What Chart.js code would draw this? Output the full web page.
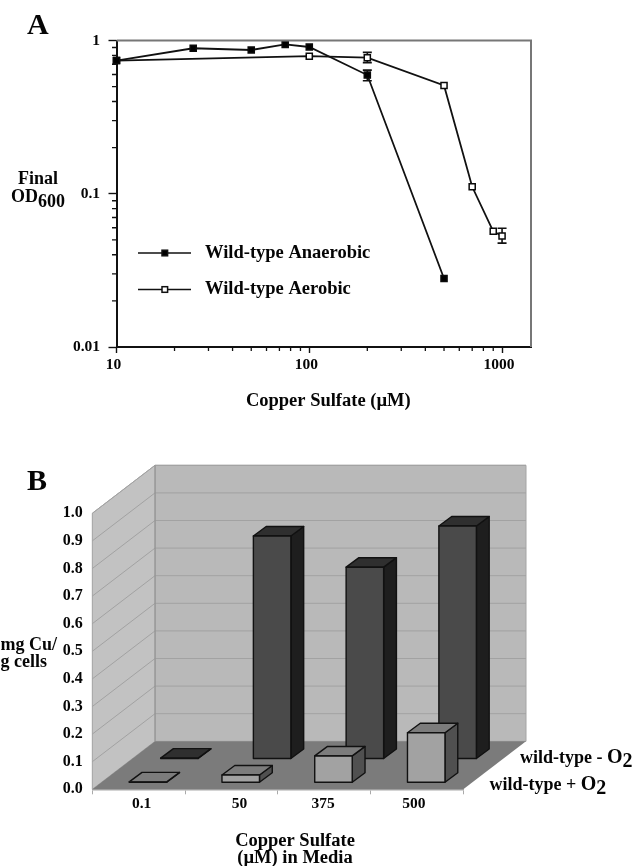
<!DOCTYPE html>
<html><head><meta charset="utf-8">
<script src="https://cdn.jsdelivr.net/npm/chart.js@4/dist/chart.umd.js"></script>
<style>
html,body{margin:0;padding:0;background:#fff;overflow:hidden}
body{width:633px;height:866px;position:relative;filter:blur(0.55px)}
canvas{position:absolute;left:0;display:block}
</style></head><body>
<canvas id="a" width="633" height="420" style="top:0"></canvas>
<canvas id="b" width="633" height="446" style="top:420px"></canvas>
<script>
// Panel A data
const anaerobicX=[10,25,50,75,100,200,500];
const anaerobicY=[0.74,0.89,0.867,0.944,0.907,0.595,0.028];
const anaerobicLow=[null,null,null,null,null,0.546,null];
const anaerobicHigh=[null,null,null,null,null,0.641,null];
const aerobicX=[10,100,200,500,700,900,1000];
const aerobicY=[0.74,0.79,0.772,0.509,0.111,0.0569,0.053];
const aerobicLow=[null,null,0.717,null,null,null,0.0476];
const aerobicHigh=[null,null,0.837,null,null,null,0.0596];
const xMajorTicks=[10,100,1000];
const xMinorTicks=[20,30,40,50,60,70,80,90,200,300,400,500,600,700,800,900];
const yMajorTicks=[0.01,0.1,1];
const yMinorTicks=[0.02,0.03,0.04,0.05,0.06,0.07,0.08,0.09,0.2,0.3,0.4,0.5,0.6,0.7,0.8,0.9];
// Panel B data
const copperLevels=['0.1','50','375','500'];
const plusO2=[0.003,0.028,0.097,0.181];
const minusO2=[0.003,0.808,0.695,0.844];

const SERIF='"Liberation Serif","Times New Roman",serif';
const INK='#050505';
function txt(ctx,segs,x,y,align){
  ctx.save();ctx.textBaseline='alphabetic';ctx.textAlign='left';ctx.fillStyle=INK;
  let w=0;
  segs.forEach(s=>{ctx.font='bold '+s[1]+'px '+SERIF;w+=ctx.measureText(s[0]).width;});
  let cx=align==='right'?x-w:align==='center'?x-w/2:x;
  segs.forEach(s=>{ctx.font='bold '+s[1]+'px '+SERIF;ctx.fillText(s[0],cx,y+(s[2]||0));cx+=ctx.measureText(s[0]).width;});
  ctx.restore();
}
const errorBars=[{low:anaerobicLow,high:anaerobicHigh},{low:aerobicLow,high:aerobicHigh}];
const panelA={id:'panelA',
  beforeDatasetDraw(chart,args){
    const {ctx,scales:{x,y}}=chart;const e=errorBars[args.index];
    const xs=chart.data.datasets[args.index].data;
    ctx.save();ctx.strokeStyle='#111';ctx.lineWidth=1.6;
    e.low.forEach((lo,i)=>{ if(lo===null)return;
      const px=x.getPixelForValue(xs[i].x),a=y.getPixelForValue(lo),b=y.getPixelForValue(e.high[i]);
      ctx.beginPath();ctx.moveTo(px,a);ctx.lineTo(px,b);
      ctx.moveTo(px-4.5,a);ctx.lineTo(px+4.5,a);ctx.moveTo(px-4.5,b);ctx.lineTo(px+4.5,b);ctx.stroke();
    });ctx.restore();
  },
  afterDraw(chart){
    const {ctx,chartArea:c,scales:{x,y}}=chart;
    ctx.save();
    ctx.strokeStyle='#777';ctx.lineWidth=2;ctx.beginPath();
    ctx.moveTo(c.left,c.top);ctx.lineTo(c.right,c.top);ctx.lineTo(c.right,c.bottom);ctx.stroke();
    ctx.strokeStyle='#111';ctx.lineWidth=1.3;ctx.beginPath();
    xMinorTicks.forEach(v=>{const p=x.getPixelForValue(v);ctx.moveTo(p,c.bottom);ctx.lineTo(p,c.bottom+4);});
    yMinorTicks.forEach(v=>{const p=y.getPixelForValue(v);ctx.moveTo(c.left,p);ctx.lineTo(c.left-4.5,p);});
    ctx.stroke();
    // legend
    const ds=chart.data.datasets;
    [[0,253,'Wild-type Anaerobic',257.5],[1,289.5,'Wild-type Aerobic',293.5]].forEach(([i,ly,t,by])=>{
      ctx.strokeStyle='#111';ctx.lineWidth=1.7;ctx.beginPath();ctx.moveTo(138,ly);ctx.lineTo(191,ly);ctx.stroke();
      ctx.fillStyle=ds[i].pointBackgroundColor;ctx.lineWidth=1.5;
      ctx.fillRect(162,ly-2.8,5.6,5.6);ctx.strokeRect(162,ly-2.8,5.6,5.6);
      txt(ctx,[[t,18.5]],205,by);
    });
    txt(ctx,[['A',30]],27,34);
    txt(ctx,[['Final',18]],38,183.5,'center');
    txt(ctx,[['OD',18],['600',18,5]],38,202,'center');
    txt(ctx,[['Copper Sulfate (\u00b5M)',18.5]],328.3,406,'center');
    ctx.restore();
  }
};
function pts(xs,ys){return xs.map((v,i)=>({x:v,y:ys[i]}));}
const lineStyle={borderColor:'#111',borderWidth:1.8,pointStyle:'rect',pointRadius:4.3,pointBorderColor:'#0a0a0a',pointBorderWidth:1.5,clip:false,tension:0};
new Chart(document.getElementById('a'),{
  type:'line',
  data:{datasets:[
    Object.assign({label:'Wild-type Anaerobic',data:pts(anaerobicX,anaerobicY),pointBackgroundColor:'#000'},lineStyle),
    Object.assign({label:'Wild-type Aerobic',data:pts(aerobicX,aerobicY),pointBackgroundColor:'#fff'},lineStyle)
  ]},
  options:{responsive:false,animation:false,devicePixelRatio:1,
    layout:{padding:{top:40.5,right:102,left:0,bottom:0}},
    plugins:{legend:{display:false},tooltip:{enabled:false}},
    scales:{
      x:{type:'logarithmic',min:10,max:1413,
        afterBuildTicks(s){s.ticks=xMajorTicks.map(v=>({value:v}));},
        afterFit(s){s.height=73;},
        border:{color:'#111',width:2},
        grid:{drawOnChartArea:false,tickLength:6,color:'#111',tickWidth:1.4},
        ticks:{color:INK,font:{family:SERIF,weight:'bold',size:15.5},padding:3,labelOffset:-3,maxRotation:0,autoSkip:false,callback:v=>String(v)}
      },
      y:{type:'logarithmic',min:0.01,max:1,
        afterBuildTicks(s){s.ticks=yMajorTicks.map(v=>({value:v}));},
        afterFit(s){s.width=116.5;},
        border:{color:'#111',width:2},
        grid:{drawOnChartArea:false,tickLength:8,color:'#111',tickWidth:1.4},
        ticks:{color:INK,font:{family:SERIF,weight:'bold',size:15.5},padding:8.5,autoSkip:false,callback:v=>String(v)}
      }
    }
  },
  plugins:[panelA]
});

// Panel B: 3D look
const DEPTH_X=62.7,DEPTH_Y=-48,BAR_DX=12.8,BAR_DY=-9.5;
const labelNudge=[3,8,-1,-3];
const rows=[
  {shiftX:9.3,shiftY:-6.6,front:'#a2a2a2',side:'#505050',top:'#7c7c7c'},
  {shiftX:40.7,shiftY:-30.3,front:'#4a4a4a',side:'#1e1e1e',top:'#2f2f2f'}
];
function poly(ctx,p,fill,stroke,lw){
  ctx.beginPath();p.forEach((q,i)=>i?ctx.lineTo(q[0],q[1]):ctx.moveTo(q[0],q[1]));ctx.closePath();
  ctx.fillStyle=fill;ctx.fill();
  if(stroke){ctx.strokeStyle=stroke;ctx.lineWidth=lw||1.4;ctx.lineJoin='round';ctx.stroke();}
}
const panelB={id:'panelB',
  beforeDraw(chart){
    chart.scales.x.getLabelItems(chart.chartArea).forEach((it,i)=>{it.options.translation[0]+=labelNudge[i];});
  },
  beforeDatasetsDraw(chart){
    const {ctx,chartArea:c,scales:{y}}=chart;
    const L=c.left,R=c.right,B=c.bottom,T=c.top,dx=DEPTH_X,dy=DEPTH_Y;
    poly(ctx,[[L+dx,T+dy],[R+dx,T+dy],[R+dx,B+dy],[L+dx,B+dy]],'#b9b9b9','#a4a4a4',1);
    poly(ctx,[[L,T],[L+dx,T+dy],[L+dx,B+dy],[L,B]],'#c2c2c2','#a8a8a8',1);
    poly(ctx,[[L,B],[L+dx,B+dy],[R+dx,B+dy],[R,B]],'#7b7b7b');
    ctx.save();ctx.strokeStyle='#a2a2a2';ctx.lineWidth=1;ctx.beginPath();
    y.ticks.forEach(t=>{ if(t.value===0)return;
      const p=y.getPixelForValue(t.value);
      ctx.moveTo(L,p);ctx.lineTo(L+dx,p+dy);ctx.lineTo(R+dx,p+dy);});
    ctx.stroke();
    ctx.strokeStyle='#909090';ctx.beginPath();ctx.moveTo(L+dx,T+dy);ctx.lineTo(L+dx,B+dy);ctx.stroke();
    ctx.restore();
  },
  beforeDatasetDraw(chart,args){
    const {ctx}=chart;const r=rows[args.index];
    args.meta.data.forEach(el=>{
      const q=el.getProps(['x','y','base','width'],true);
      const l=q.x-q.width/2+r.shiftX,w=q.width,t=q.y+r.shiftY,b=q.base+r.shiftY;
      const a=BAR_DX,d=BAR_DY;
      poly(ctx,[[l+w,b],[l+w+a,b+d],[l+w+a,t+d],[l+w,t]],r.side,'#111');
      poly(ctx,[[l,t],[l+a,t+d],[l+w+a,t+d],[l+w,t]],r.top,'#111');
      poly(ctx,[[l,t],[l+w,t],[l+w,b],[l,b]],r.front,'#111');
    });
    return false;
  },
  afterDraw(chart){
    const {ctx}=chart;const o=-420;
    txt(ctx,[['B',30]],27,490+o);
    txt(ctx,[['mg Cu/',18]],57,650+o,'right');
    txt(ctx,[['g cells',18]],47,666.5+o,'right');
    txt(ctx,[['wild-type - ',18],['O',20],['2',20,4]],520,762.7+o);
    txt(ctx,[['wild-type + ',18],['O',20],['2',20,4]],489.5,790+o);
    txt(ctx,[['Copper Sulfate',18.5]],295,845.5+o,'center');
    txt(ctx,[['(\u00b5M) in Media',18.5]],295,862.5+o,'center');
  }
};
new Chart(document.getElementById('b'),{
  type:'bar',
  data:{labels:copperLevels,datasets:[
    {label:'wild-type + O2',data:plusO2,backgroundColor:'#a2a2a2',grouped:false,barThickness:37.5},
    {label:'wild-type - O2',data:minusO2,backgroundColor:'#4a4a4a',grouped:false,barThickness:37.5}
  ]},
  options:{responsive:false,animation:false,devicePixelRatio:1,
    layout:{padding:{top:93.3,right:169.7,left:0,bottom:0}},
    plugins:{legend:{display:false},tooltip:{enabled:false}},
    scales:{
      x:{afterFit(s){s.height=76.7;},
        border:{color:'#aaa',width:1.5},
        grid:{drawOnChartArea:false,tickLength:5,color:'#aaa',offset:true},
        ticks:{color:INK,font:{family:SERIF,weight:'bold',size:15.5},padding:0}
      },
      y:{min:0,max:1,afterFit(s){s.width=92.3;},
        border:{color:'#aaa',width:1},
        grid:{drawOnChartArea:false,drawTicks:false},
        ticks:{stepSize:0.1,color:INK,font:{family:SERIF,weight:'bold',size:16},padding:9.5,callback:v=>v.toFixed(1)}
      }
    }
  },
  plugins:[panelB]
});
</script>
</body></html>
